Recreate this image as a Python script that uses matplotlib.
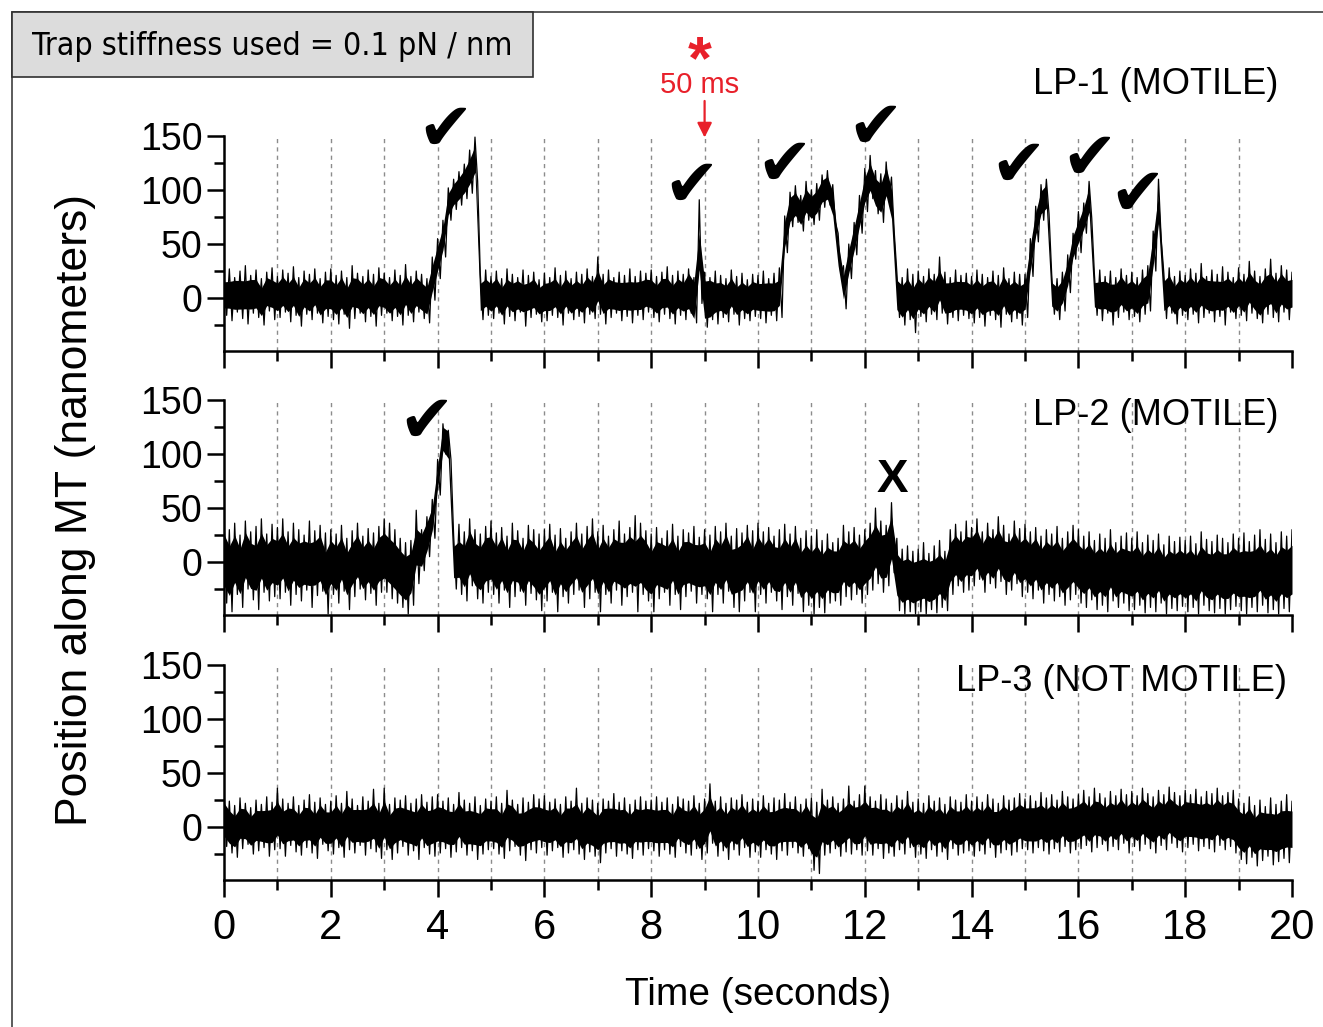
import numpy as np
import matplotlib.pyplot as plt
from matplotlib import font_manager as fm
from matplotlib.patches import Rectangle

plt.rcParams['font.family'] = ['Liberation Sans', 'DejaVu Sans']

# time grid, one sample every 0.1 s (upper / lower noise envelope)
t = np.round(np.arange(0, 20.01, 0.1), 2)

lp1_hi = [22, 27, 19, 25, 30, 21, 26, 18, 24, 28,
          20, 26, 23, 29, 19, 25, 22, 27, 18, 24,
          27, 21, 25, 19, 30, 23, 20, 26, 22, 28,
          23, 19, 26, 21, 31, 20, 25, 22, 18, 38,
          55, 72, 102, 110, 117, 124, 137, 149, 22, 26,
          20, 25, 18, 27, 22, 19, 26, 21, 24, 17,
          23, 19, 28, 21, 25, 18, 24, 22, 27, 20,
          38, 22, 26, 19, 24, 21, 27, 20, 25, 23,
          26, 20, 24, 29, 21, 25, 22, 27, 19, 91,
          24, 19, 25, 21, 18, 26, 20, 23, 17, 22,
          21, 25, 18, 23, 28, 76, 98, 104, 95, 108,
          100, 106, 114, 118, 105, 60, 30, 50, 70, 95,
          120, 132, 118, 115, 126, 112, 24, 19, 27, 22,
          25, 20, 27, 22, 38, 24, 19, 26, 21, 23,
          20, 26, 22, 19, 25, 21, 28, 18, 24, 22,
          22, 55, 85, 105, 110, 22, 18, 24, 40, 60,
          80, 88, 108, 22, 26, 20, 25, 19, 27, 21,
          24, 19, 26, 30, 62, 110, 23, 28, 20, 25,
          21, 27, 23, 32, 20, 26, 22, 29, 24, 19,
          28, 22, 34, 25, 20, 27, 36, 23, 30, 26,
          24]
lp1_lo = [-16, -21, -13, -19, -24, -14, -18, -25, -12, -20,
          -18, -13, -22, -16, -26, -15, -20, -14, -23, -17,
          -20, -24, -15, -28, -19, -14, -22, -17, -26, -16,
          -14, -21, -17, -25, -16, -22, -13, -19, -23, -2,
          18, 38, 72, 82, 86, 92, 97, 108, -20, -16,
          -19, -14, -24, -17, -21, -13, -26, -18, -15, -22,
          -21, -16, -18, -25, -14, -20, -17, -23, -15, -19,
          -15, -24, -18, -14, -21, -17, -23, -16, -20, -13,
          -18, -22, -15, -19, -24, -16, -20, -14, -23, -5,
          -27, -20, -24, -18, -22, -15, -25, -19, -21, -17,
          -19, -23, -16, -21, -18, 42, 66, 70, 62, 72,
          68, 72, 84, 86, 70, 22, -10, 18, 40, 60,
          80, 92, 78, 70, 90, 62, -18, -25, -20, -32,
          -17, -22, -15, -20, -14, -24, -18, -21, -16, -19,
          -23, -18, -26, -16, -20, -27, -15, -22, -19, -25,
          -18, 20, 52, 72, 78, -15, -20, -12, 5, 36,
          42, 60, 74, -16, -21, -14, -25, -18, -13, -20,
          -17, -22, -15, -12, 25, 55, -19, -14, -24, -16,
          -20, -15, -23, -18, -14, -22, -17, -25, -13, -19,
          -16, -21, -14, -19, -23, -15, -18, -22, -13, -20,
          -15]

lp2_hi = [42, 30, 36, 25, 38, 28, 33, 40, 26, 35,
          32, 40, 28, 36, 30, 25, 38, 29, 34, 27,
          30, 26, 34, 22, 29, 36, 24, 31, 27, 33,
          40, 36, 30, 22, 18, 20, 48, 30, 42, 58,
          95, 128, 122, 25, 35, 28, 40, 30, 26, 33,
          38, 27, 32, 24, 36, 29, 22, 34, 30, 26,
          30, 35, 25, 31, 22, 28, 36, 26, 33, 40,
          28, 34, 24, 30, 38, 26, 32, 43, 36, 29,
          26, 32, 22, 29, 35, 24, 30, 27, 33, 23,
          30, 25, 33, 28, 36, 24, 31, 27, 34, 29,
          36, 28, 32, 24, 30, 35, 26, 33, 22, 29,
          24, 30, 20, 26, 18, 22, 34, 28, 32, 25,
          30, 36, 50, 38, 34, 55, 22, 12, 15, 10,
          12, 18, 8, 15, 20, 10, 30, 35, 28, 38,
          32, 40, 28, 36, 30, 42, 34, 26, 38, 31,
          35, 28, 32, 24, 30, 26, 33, 22, 28, 34,
          30, 24, 28, 20, 26, 22, 30, 18, 24, 27,
          22, 28, 18, 25, 20, 26, 16, 24, 19, 23,
          20, 24, 17, 28, 21, 19, 25, 22, 18, 26,
          22, 27, 19, 25, 30, 21, 26, 18, 28, 24,
          30]
lp2_lo = [-38, -46, -30, -42, -25, -35, -44, -28, -36, -32,
          -34, -28, -40, -30, -36, -26, -42, -31, -27, -48,
          -30, -38, -27, -44, -32, -25, -35, -29, -40, -28,
          -28, -34, -38, -42, -48, -40, -20, -8, 5, 22,
          62, 100, 95, -25, -30, -36, -22, -34, -38, -28,
          -30, -38, -26, -42, -32, -27, -40, -29, -35, -45,
          -36, -28, -46, -32, -38, -30, -26, -42, -34, -28,
          -46, -30, -38, -26, -40, -32, -28, -46, -30, -36,
          -46, -34, -28, -40, -30, -44, -32, -27, -38, -30,
          -34, -46, -30, -38, -27, -42, -46, -36, -28, -46,
          -30, -38, -28, -36, -44, -32, -40, -29, -46, -40,
          -48, -42, -47, -38, -36, -40, -32, -35, -30, -38,
          -30, -26, -20, -28, -22, -10, -45, -48, -46, -48,
          -46, -48, -44, -47, -42, -45, -30, -22, -28, -26,
          -22, -16, -28, -20, -24, -18, -30, -26, -20, -32,
          -28, -34, -26, -38, -30, -36, -32, -40, -35, -30,
          -38, -42, -35, -44, -40, -46, -36, -42, -38, -45,
          -44, -40, -47, -42, -46, -38, -48, -43, -45, -41,
          -46, -42, -48, -40, -45, -47, -43, -48, -44, -41,
          -45, -48, -42, -46, -40, -47, -44, -48, -43, -46,
          -44]

lp3_hi = [32, 24, 20, 27, 22, 18, 25, 21, 28, 23,
          36, 26, 22, 28, 20, 25, 30, 23, 27, 21,
          24, 29, 22, 33, 26, 20, 28, 24, 35, 22,
          36, 21, 27, 25, 29, 22, 26, 30, 23, 28,
          30, 24, 27, 21, 32, 25, 22, 28, 20, 26,
          24, 28, 22, 34, 25, 21, 27, 23, 30, 26,
          29, 23, 26, 21, 28, 24, 36, 22, 27, 25,
          22, 26, 24, 31, 23, 27, 21, 25, 28, 24,
          25, 28, 23, 27, 21, 28, 26, 24, 29, 22,
          26, 40, 24, 28, 22, 27, 25, 30, 23, 26,
          24, 29, 22, 27, 25, 31, 23, 28, 21, 26,
          27, 23, 35, 25, 28, 22, 26, 38, 24, 30,
          38, 28, 24, 30, 26, 22, 29, 25, 33, 23,
          26, 22, 29, 24, 27, 21, 28, 25, 23, 30,
          24, 28, 23, 30, 26, 22, 29, 25, 27, 31,
          26, 29, 24, 32, 27, 30, 25, 33, 28, 26,
          30, 34, 28, 36, 31, 27, 33, 29, 35, 30,
          33, 29, 36, 31, 28, 34, 30, 37, 32, 29,
          34, 30, 35, 28, 33, 31, 36, 29, 32, 34,
          26, 22, 28, 20, 25, 19, 27, 21, 24, 30,
          24]
lp3_lo = [-18, -24, -28, -20, -16, -25, -22, -19, -27, -21,
          -20, -27, -17, -23, -26, -19, -24, -29, -16, -22,
          -25, -19, -28, -21, -24, -17, -26, -20, -23, -29,
          -21, -30, -24, -18, -26, -22, -30, -19, -25, -27,
          -24, -20, -28, -23, -19, -26, -22, -30, -25, -21,
          -20, -25, -29, -22, -18, -26, -31, -21, -24, -19,
          -26, -22, -19, -28, -24, -21, -25, -30, -23, -27,
          -33, -24, -20, -27, -22, -25, -29, -21, -26, -20,
          -22, -27, -21, -25, -28, -18, -24, -26, -20, -30,
          -24, -15, -27, -22, -30, -21, -26, -19, -28, -23,
          -28, -21, -25, -30, -22, -26, -19, -24, -27, -20,
          -40, -43, -26, -24, -20, -27, -23, -25, -21, -26,
          -22, -26, -20, -29, -24, -27, -21, -25, -19, -28,
          -25, -29, -21, -27, -23, -30, -20, -26, -24, -22,
          -27, -22, -25, -19, -28, -24, -21, -26, -23, -20,
          -21, -24, -19, -22, -25, -20, -23, -18, -24, -21,
          -20, -17, -23, -19, -16, -22, -18, -21, -15, -24,
          -18, -22, -16, -20, -24, -17, -21, -15, -19, -23,
          -19, -16, -22, -18, -20, -23, -17, -21, -18, -24,
          -30, -34, -28, -36, -31, -27, -35, -32, -29, -33,
          -28]

labels = ['LP-1 (MOTILE)', 'LP-2 (MOTILE)', 'LP-3 (NOT MOTILE)']
checks_lp1 = [(4.14, 155), (8.75, 103), (10.49, 122), (12.19, 157),
              (14.87, 121), (16.20, 128), (17.10, 95)]
checks_lp2 = [(3.78, 129)]

# narrow face for the stiffness box if one is installed
names = {f.name for f in fm.fontManager.ttflist}
if 'Liberation Sans Narrow' in names:
    box_font = dict(family='Liberation Sans Narrow', fontsize=29)
elif any(f.name == 'DejaVu Sans' and f.stretch == 'condensed' for f in fm.fontManager.ttflist):
    box_font = dict(family='DejaVu Sans', fontstretch='condensed', fontsize=23)
else:
    box_font = dict(family='Liberation Sans', fontsize=24.5)

fig = plt.figure(figsize=(13.23, 10.27), dpi=100)

# outer frame and the stiffness box
fig.patches.append(Rectangle((12 / 1323, -0.2), 1.2, 1.2 - 12 / 1027,
                             transform=fig.transFigure, fill=False,
                             edgecolor='#404040', lw=1.2))
fig.patches.append(Rectangle((12 / 1323, 1 - 77 / 1027), 521 / 1323, 65 / 1027,
                             transform=fig.transFigure, facecolor='#dcdcdc',
                             edgecolor='#303030', lw=1.2))
fig.text(272 / 1323, 1 - 46 / 1027, 'Trap stiffness used = 0.1 pN / nm',
         ha='center', va='center', **box_font)

tops = [136, 400, 665]
axes = []
for k, (hi, lo) in enumerate([(lp1_hi, lp1_lo), (lp2_hi, lp2_lo), (lp3_hi, lp3_lo)]):
    top = tops[k]
    ax = fig.add_axes([224 / 1323, 1 - (top + 215) / 1027, 1068 / 1323, 215 / 1027])
    axes.append(ax)
    hi = np.array(hi, float)
    lo = np.array(lo, float)

    # dense core of the trace
    c = (hi + lo) / 2
    hr = (hi - lo) / 2
    hr_s = np.convolve(np.pad(hr, 2, mode='edge'), np.ones(5) / 5, mode='valid')
    ax.fill_between(t, c - 0.62 * hr_s, c + 0.62 * hr_s, color='black', lw=0, zorder=3)

    # noise spikes: alternate upper and lower envelope
    xs = np.empty(2 * len(t))
    ys = np.empty(2 * len(t))
    xs[0::2] = t
    xs[1::2] = t + 0.05
    ys[0::2] = hi
    ys[1::2] = lo
    ax.plot(xs, ys, color='black', lw=0.9, zorder=3)

    for s in range(1, 20):
        ax.axvline(s, color='#8c8c8c', lw=1.0, dashes=(3, 3), zorder=1)

    ax.set_xlim(0, 20)
    ax.set_ylim(-49, 150)
    ax.set_yticks([0, 50, 100, 150])
    ax.set_yticks([-25, 25, 75, 125], minor=True)
    ax.set_xticks(range(0, 21, 2))
    ax.set_xticks(range(1, 20, 2), minor=True)
    for side in ['top', 'right']:
        ax.spines[side].set_visible(False)
    for side in ['left', 'bottom']:
        ax.spines[side].set_linewidth(1.8)
    ax.tick_params(which='major', direction='out', length=12, width=1.8, labelsize=27)
    ax.tick_params(which='minor', direction='out', length=7, width=1.8)
    ax.tick_params(axis='x', labelsize=30, pad=8)
    if k < 2:
        ax.tick_params(axis='x', labelbottom=False)

axes[0].text(19.74, 198, labels[0], ha='right', va='center', fontsize=26)
axes[1].text(19.74, 136, labels[1], ha='right', va='center', fontsize=26)
axes[2].text(19.9, 135, labels[2], ha='right', va='center', fontsize=26)

for tx, v in checks_lp1:
    axes[0].text(tx, v, '\u2714', ha='center', va='center', fontsize=48,
                 family='DejaVu Sans', clip_on=False)
for tx, v in checks_lp2:
    axes[1].text(tx, v, '\u2714', ha='center', va='center', fontsize=48,
                 family='DejaVu Sans', clip_on=False)
axes[1].text(12.51, 76, 'X', ha='center', va='center', fontsize=34, fontweight='bold')

red = '#e8202a'
axes[0].text(8.91, 218, '*', ha='center', va='center', fontsize=44, fontweight='bold', color=red)
axes[0].text(8.91, 197, '50 ms', ha='center', va='center', fontsize=21, color=red)
axes[0].annotate('', xy=(9.0, 146), xytext=(9.0, 185),
                 arrowprops=dict(arrowstyle='-|>', color=red, lw=1.6, mutation_scale=22),
                 annotation_clip=False)

fig.text(76 / 1323, 1 - 510 / 1027, 'Position along MT (nanometers)', rotation=90,
         ha='center', va='center', fontsize=32)
fig.text(758 / 1323, 1 - 995 / 1027, 'Time (seconds)', ha='center', va='center', fontsize=28)

plt.savefig('out.png', dpi=100)
